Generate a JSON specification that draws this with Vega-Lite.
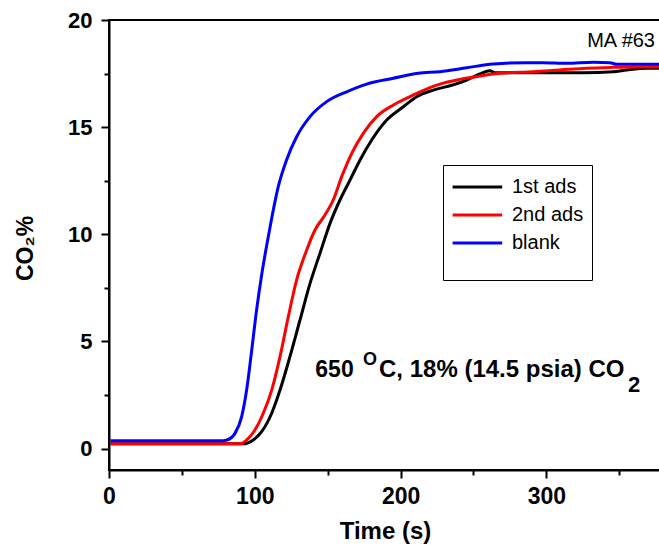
{
  "$schema": "https://vega.github.io/schema/vega-lite/v6.json",
  "width": 553,
  "height": 450,
  "autosize": {"type": "none"},
  "padding": {"left": 109, "top": 20, "right": 0, "bottom": 84},
  "background": "white",
  "config": {
    "font": "Liberation Sans",
    "view": {"stroke": "black", "strokeWidth": 2}
  },
  "data": {
    "values": [
      {"series": "1st ads", "t": 1, "co2": 0.22},
      {"series": "1st ads", "t": 91.9, "co2": 0.22},
      {"series": "1st ads", "t": 99.0, "co2": 0.40},
      {"series": "1st ads", "t": 104.7, "co2": 0.79},
      {"series": "1st ads", "t": 111.6, "co2": 1.65},
      {"series": "1st ads", "t": 117.3, "co2": 2.73},
      {"series": "1st ads", "t": 124.1, "co2": 4.29},
      {"series": "1st ads", "t": 131.0, "co2": 6.00},
      {"series": "1st ads", "t": 137.9, "co2": 7.71},
      {"series": "1st ads", "t": 144.7, "co2": 9.11},
      {"series": "1st ads", "t": 151.6, "co2": 10.51},
      {"series": "1st ads", "t": 158.4, "co2": 11.60},
      {"series": "1st ads", "t": 165.3, "co2": 12.53},
      {"series": "1st ads", "t": 172.2, "co2": 13.47},
      {"series": "1st ads", "t": 180.2, "co2": 14.40},
      {"series": "1st ads", "t": 190.5, "co2": 15.33},
      {"series": "1st ads", "t": 201.9, "co2": 15.95},
      {"series": "1st ads", "t": 211.0, "co2": 16.42},
      {"series": "1st ads", "t": 222.4, "co2": 16.73},
      {"series": "1st ads", "t": 236.1, "co2": 16.97},
      {"series": "1st ads", "t": 245.3, "co2": 17.20},
      {"series": "1st ads", "t": 254.4, "co2": 17.48},
      {"series": "1st ads", "t": 261.3, "co2": 17.63},
      {"series": "1st ads", "t": 264.7, "co2": 17.54},
      {"series": "1st ads", "t": 279.6, "co2": 17.54},
      {"series": "1st ads", "t": 302.5, "co2": 17.54},
      {"series": "1st ads", "t": 325.3, "co2": 17.54},
      {"series": "1st ads", "t": 345.9, "co2": 17.59},
      {"series": "1st ads", "t": 355.1, "co2": 17.67},
      {"series": "1st ads", "t": 368.8, "co2": 17.75},
      {"series": "1st ads", "t": 379.3, "co2": 17.75},
      {"series": "2nd ads", "t": 1, "co2": 0.22},
      {"series": "2nd ads", "t": 89.8, "co2": 0.22},
      {"series": "2nd ads", "t": 94.4, "co2": 0.40},
      {"series": "2nd ads", "t": 100.1, "co2": 0.87},
      {"series": "2nd ads", "t": 105.8, "co2": 1.65},
      {"series": "2nd ads", "t": 111.6, "co2": 2.73},
      {"series": "2nd ads", "t": 117.3, "co2": 4.29},
      {"series": "2nd ads", "t": 123.0, "co2": 6.16},
      {"series": "2nd ads", "t": 128.7, "co2": 7.87},
      {"series": "2nd ads", "t": 135.6, "co2": 9.27},
      {"series": "2nd ads", "t": 141.3, "co2": 10.20},
      {"series": "2nd ads", "t": 148.1, "co2": 10.90},
      {"series": "2nd ads", "t": 153.8, "co2": 11.60},
      {"series": "2nd ads", "t": 159.6, "co2": 12.69},
      {"series": "2nd ads", "t": 166.5, "co2": 13.78},
      {"series": "2nd ads", "t": 174.4, "co2": 14.71},
      {"series": "2nd ads", "t": 183.6, "co2": 15.49},
      {"series": "2nd ads", "t": 195.0, "co2": 16.03},
      {"series": "2nd ads", "t": 204.2, "co2": 16.35},
      {"series": "2nd ads", "t": 212.1, "co2": 16.61},
      {"series": "2nd ads", "t": 227.0, "co2": 17.01},
      {"series": "2nd ads", "t": 240.7, "co2": 17.23},
      {"series": "2nd ads", "t": 254.4, "co2": 17.39},
      {"series": "2nd ads", "t": 268.2, "co2": 17.51},
      {"series": "2nd ads", "t": 291.0, "co2": 17.59},
      {"series": "2nd ads", "t": 309.3, "co2": 17.67},
      {"series": "2nd ads", "t": 327.6, "co2": 17.75},
      {"series": "2nd ads", "t": 345.9, "co2": 17.79},
      {"series": "2nd ads", "t": 379.3, "co2": 17.82},
      {"series": "blank", "t": 1, "co2": 0.37},
      {"series": "blank", "t": 78.2, "co2": 0.37},
      {"series": "blank", "t": 80.9, "co2": 0.40},
      {"series": "blank", "t": 86.4, "co2": 0.71},
      {"series": "blank", "t": 91.0, "co2": 1.49},
      {"series": "blank", "t": 94.4, "co2": 2.73},
      {"series": "blank", "t": 97.9, "co2": 4.60},
      {"series": "blank", "t": 101.3, "co2": 6.50},
      {"series": "blank", "t": 104.7, "co2": 8.10},
      {"series": "blank", "t": 108.2, "co2": 9.50},
      {"series": "blank", "t": 111.6, "co2": 10.75},
      {"series": "blank", "t": 116.1, "co2": 12.22},
      {"series": "blank", "t": 121.8, "co2": 13.47},
      {"series": "blank", "t": 128.7, "co2": 14.55},
      {"series": "blank", "t": 137.9, "co2": 15.49},
      {"series": "blank", "t": 149.3, "co2": 16.19},
      {"series": "blank", "t": 163.0, "co2": 16.65},
      {"series": "blank", "t": 176.7, "co2": 17.01},
      {"series": "blank", "t": 195.0, "co2": 17.28},
      {"series": "blank", "t": 212.1, "co2": 17.51},
      {"series": "blank", "t": 227.0, "co2": 17.59},
      {"series": "blank", "t": 245.3, "co2": 17.77},
      {"series": "blank", "t": 263.6, "co2": 17.95},
      {"series": "blank", "t": 286.5, "co2": 18.01},
      {"series": "blank", "t": 297.7, "co2": 18.01},
      {"series": "blank", "t": 313.9, "co2": 17.98},
      {"series": "blank", "t": 332.2, "co2": 18.03},
      {"series": "blank", "t": 343.6, "co2": 18.01},
      {"series": "blank", "t": 348.2, "co2": 17.93},
      {"series": "blank", "t": 379.3, "co2": 17.93}
    ]
  },
  "layer": [
    {
      "mark": {"type": "line", "strokeWidth": 3, "interpolate": "monotone", "clip": true},
      "encoding": {
        "x": {
          "field": "t",
          "type": "quantitative",
          "scale": {"domain": [0, 379.3], "nice": false, "zero": false},
          "axis": {
            "title": "Time (s)",
            "titleFont": "Liberation Sans",
            "titleFontSize": 24,
            "titleFontWeight": "bold",
            "titleColor": "black",
            "titleBaseline": "alphabetic",
            "titleY": 68,
            "titleX": 276,
            "values": [0, 50, 100, 150, 200, 250, 300, 350],
            "labelExpr": "datum.value % 100 === 0 ? datum.label : ''",
            "labelFont": "Liberation Sans",
            "labelFontSize": 23,
            "labelFontWeight": "bold",
            "labelColor": "black",
            "labelFlush": false,
            "labelOverlap": false,
            "labelPadding": 7,
            "tickSize": {"condition": {"test": "datum.value % 100 === 0", "value": 8}, "value": 5},
            "tickColor": "black",
            "tickWidth": 2,
            "domainColor": "black",
            "domainWidth": 2,
            "grid": false
          }
        },
        "y": {
          "field": "co2",
          "type": "quantitative",
          "scale": {"domain": [-1, 20], "nice": false, "zero": false},
          "axis": {
            "title": "CO₂%",
            "titleFont": "Liberation Sans",
            "titleFontSize": 23,
            "titleFontWeight": "bold",
            "titleColor": "black",
            "titleAngle": 270,
            "titleBaseline": "alphabetic",
            "titleX": -77,
            "titleY": 228,
            "values": [0, 2.5, 5, 7.5, 10, 12.5, 15, 17.5, 20],
            "labelExpr": "datum.value % 5 === 0 ? datum.label : ''",
            "labelFont": "Liberation Sans",
            "labelFontSize": 22,
            "labelFontWeight": "bold",
            "labelColor": "black",
            "labelFlush": false,
            "labelOverlap": false,
            "labelPadding": 9,
            "tickSize": {"condition": {"test": "datum.value % 5 === 0", "value": 8}, "value": 5},
            "tickColor": "black",
            "tickWidth": 2,
            "domainColor": "black",
            "domainWidth": 2,
            "grid": false
          }
        },
        "color": {
          "field": "series",
          "type": "nominal",
          "scale": {"domain": ["1st ads", "2nd ads", "blank"], "range": ["#000000", "#ff0000", "#0000ff"]},
          "legend": {
            "orient": "none",
            "legendX": 334,
            "legendY": 145,
            "title": "                               ",
            "titleOrient": "bottom",
            "titleFontSize": 16,
            "titlePadding": 3,
            "strokeColor": "black",
            "padding": 8,
            "symbolType": "M-1,0H3",
            "symbolSize": 615,
            "symbolStrokeWidth": 3,
            "labelFont": "Liberation Sans",
            "labelFontSize": 20,
            "labelColor": "black",
            "labelOffset": 33,
            "rowPadding": 4
          }
        }
      }
    },
    {
      "data": {"values": [{}]},
      "mark": {"type": "text", "text": "MA #63", "align": "right", "baseline": "alphabetic", "fontSize": 20, "font": "Liberation Sans", "color": "black"},
      "encoding": {"x": {"datum": 374.5}, "y": {"datum": 18.75}}
    },
    {
      "data": {"values": [{}]},
      "mark": {"type": "text", "text": "650", "align": "left", "baseline": "alphabetic", "fontSize": 23, "fontWeight": "bold", "font": "Liberation Sans", "color": "black"},
      "encoding": {"x": {"datum": 141.5}, "y": {"datum": 3.36}}
    },
    {
      "data": {"values": [{}]},
      "mark": {"type": "text", "text": "O", "align": "left", "baseline": "alphabetic", "fontSize": 18, "fontWeight": "bold", "font": "Liberation Sans", "color": "black"},
      "encoding": {"x": {"datum": 174.2}, "y": {"datum": 3.9}}
    },
    {
      "data": {"values": [{}]},
      "mark": {"type": "text", "text": "C, 18% (14.5 psia) CO", "align": "left", "baseline": "alphabetic", "fontSize": 24, "fontWeight": "bold", "font": "Liberation Sans", "color": "black"},
      "encoding": {"x": {"datum": 185.2}, "y": {"datum": 3.36}}
    },
    {
      "data": {"values": [{}]},
      "mark": {"type": "text", "text": "2", "align": "left", "baseline": "alphabetic", "fontSize": 22, "fontWeight": "bold", "font": "Liberation Sans", "color": "black"},
      "encoding": {"x": {"datum": 356.0}, "y": {"datum": 2.66}}
    }
  ]
}
